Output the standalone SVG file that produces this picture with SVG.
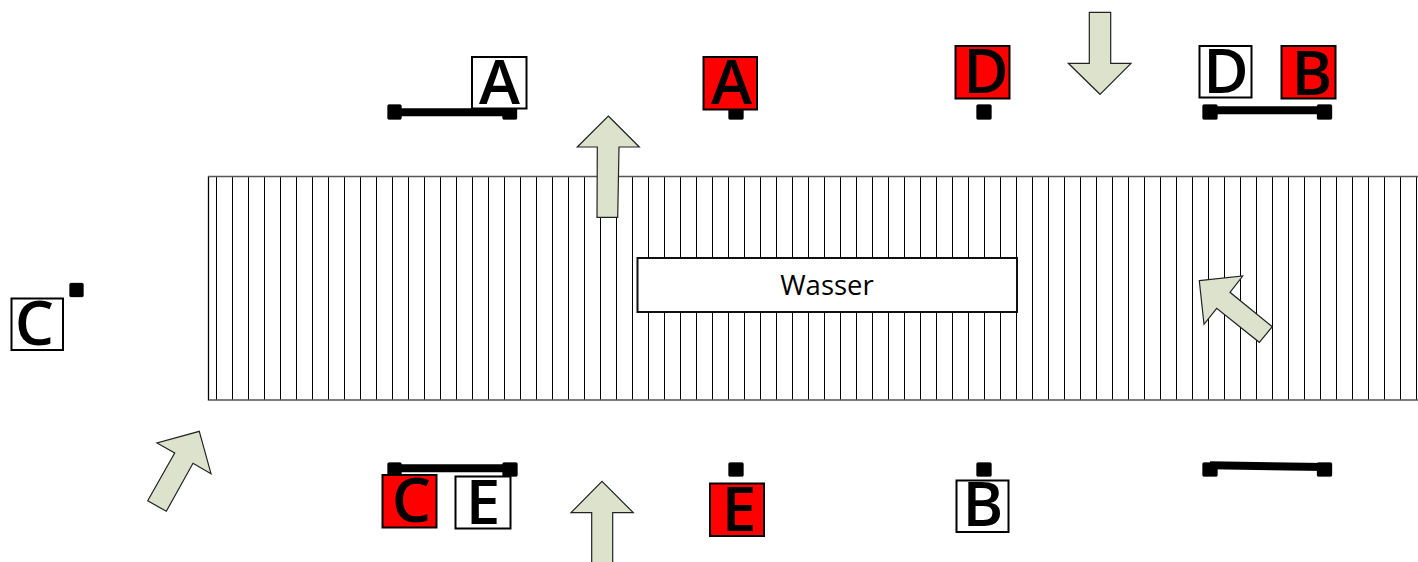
<svg xmlns="http://www.w3.org/2000/svg" width="1418" height="562" viewBox="0 0 1418 562">
<style>
.box{stroke:#000;stroke-width:2}
.w{fill:#fff}
.r{fill:#f00}
.l{font-family:"Open Sans","Liberation Sans",sans-serif;font-size:62px;font-weight:600;fill:#000;text-anchor:middle}
.sq{fill:#000;stroke:#000;stroke-opacity:.3;stroke-width:1}
.arrow{fill:#dde2cd;stroke:#222;stroke-width:1.2;stroke-linejoin:miter}
.bar{fill:none;stroke:#000;stroke-width:8}
.edge{fill:none;stroke:#555;stroke-width:1.4}
</style>
<defs>
<pattern id="hatch" patternUnits="userSpaceOnUse" x="216" y="0" width="16" height="16">
<rect x="0" y="0" width="1" height="16" fill="#000"/>
</pattern>
</defs>
<g id="water">
<rect x="208" y="176.5" width="1210" height="223.5" fill="url(#hatch)"/>
<path class="edge" d="M1418 176.500H208.500V400H1418"/>
<path d="M208.500 177V400" stroke="#000" fill="none"/>
<g id="wasser">
<rect x="637.500" y="258" width="379.500" height="54" fill="#fff" stroke="#111" stroke-width="2"/>
<text x="827" y="295" font-family="'Open Sans','Liberation Sans',sans-serif" font-size="27.500" text-anchor="middle" fill="#000">Wasser</text>
</g>
</g>
<g id="connectors">
<path class="bar" d="M394 112.300H510"/>
<path class="bar" d="M1210 110.300H1324"/>
<path class="bar" d="M394 468.300H510"/>
<path class="bar" d="M1210 465.300L1324 467"/>
</g>
<g id="posts">
<rect class="sq" x="387.500" y="104.500" width="14" height="15" rx="1.500"/>
<rect class="sq" x="502.500" y="104.500" width="14.500" height="15" rx="1.500"/>
<rect class="sq" x="728.500" y="104.500" width="15" height="15" rx="1.500"/>
<rect class="sq" x="976.500" y="104.500" width="15" height="15" rx="1.500"/>
<rect class="sq" x="1202.500" y="104.500" width="15" height="15" rx="1.500"/>
<rect class="sq" x="1317" y="104.500" width="15" height="15" rx="1.500"/>
<rect class="sq" x="69.500" y="283" width="14" height="14" rx="1.500"/>
<rect class="sq" x="387.500" y="462.500" width="14" height="14" rx="1.500"/>
<rect class="sq" x="502.500" y="462.500" width="15" height="14" rx="1.500"/>
<rect class="sq" x="728.500" y="462.500" width="15" height="14" rx="1.500"/>
<rect class="sq" x="976.500" y="462.500" width="15" height="14" rx="1.500"/>
<rect class="sq" x="1202.500" y="462.500" width="15" height="14" rx="1.500"/>
<rect class="sq" x="1317" y="462.500" width="15" height="14" rx="1.500"/>
</g>
<g id="arrows">
<polygon class="arrow" id="arrow-1" points="608.300,116 639.300,147 619,147 617.700,217.300 597,217.300 597.300,147 577.300,147"/>
<polygon class="arrow" id="arrow-2" points="1089.300,12.300 1110.700,12.300 1110.700,63.300 1131,63.300 1100,94.300 1068.300,63.300 1089.300,63.300"/>
<polygon class="arrow" id="arrow-3" points="199.300,431.300 211,473.700 193,463.300 166.300,511.300 147.700,500.700 174.700,453 157,443"/>
<polygon class="arrow" id="arrow-4" points="571,512.700 602,481.300 633.300,512.700 612.700,512.700 612.700,563 591.700,563 591.700,512.700"/>
<polygon class="arrow" id="arrow-5" points="1199.300,280.700 1242.700,276 1230,292.300 1272.300,326.700 1259.300,342.300 1216.700,308.300 1204,324.300"/>
</g>
<g id="node-a-white"><rect class="box w" x="472" y="57" width="54.500" height="51.500"/><text class="l" x="499.500" y="104">A</text></g>
<g id="node-a-red"><rect class="box r" x="703.500" y="57" width="53.500" height="52.500"/><text class="l" x="731.500" y="103.500">A</text></g>
<g id="node-d-red"><rect class="box r" x="955.500" y="46" width="54" height="52.500"/><text class="l" x="986" y="92.500">D</text></g>
<g id="node-d-white"><rect class="box w" x="1199.500" y="46" width="52" height="51.500"/><text class="l" x="1226" y="92.500">D</text></g>
<g id="node-b-red"><rect class="box r" x="1281.500" y="46" width="54" height="52.500"/><text class="l" x="1312" y="94.500">B</text></g>
<g id="node-c-white"><rect class="box w" x="11.500" y="298.500" width="51.500" height="51.500"/><text class="l" x="34.500" y="344.500">C</text></g>
<g id="node-c-red"><rect class="box r" x="382.500" y="475" width="54" height="52.500"/><text class="l" x="411.500" y="521.500">C</text></g>
<g id="node-e-white"><rect class="box w" x="455.500" y="476.500" width="55" height="52"/><text class="l" x="483" y="523.500">E</text></g>
<g id="node-e-red"><rect class="box r" x="710" y="483.500" width="54" height="52.500"/><text class="l" x="739" y="531">E</text></g>
<g id="node-b-white"><rect class="box w" x="956.500" y="480.500" width="52" height="51.500"/><text class="l" x="983" y="526">B</text></g>
</svg>
